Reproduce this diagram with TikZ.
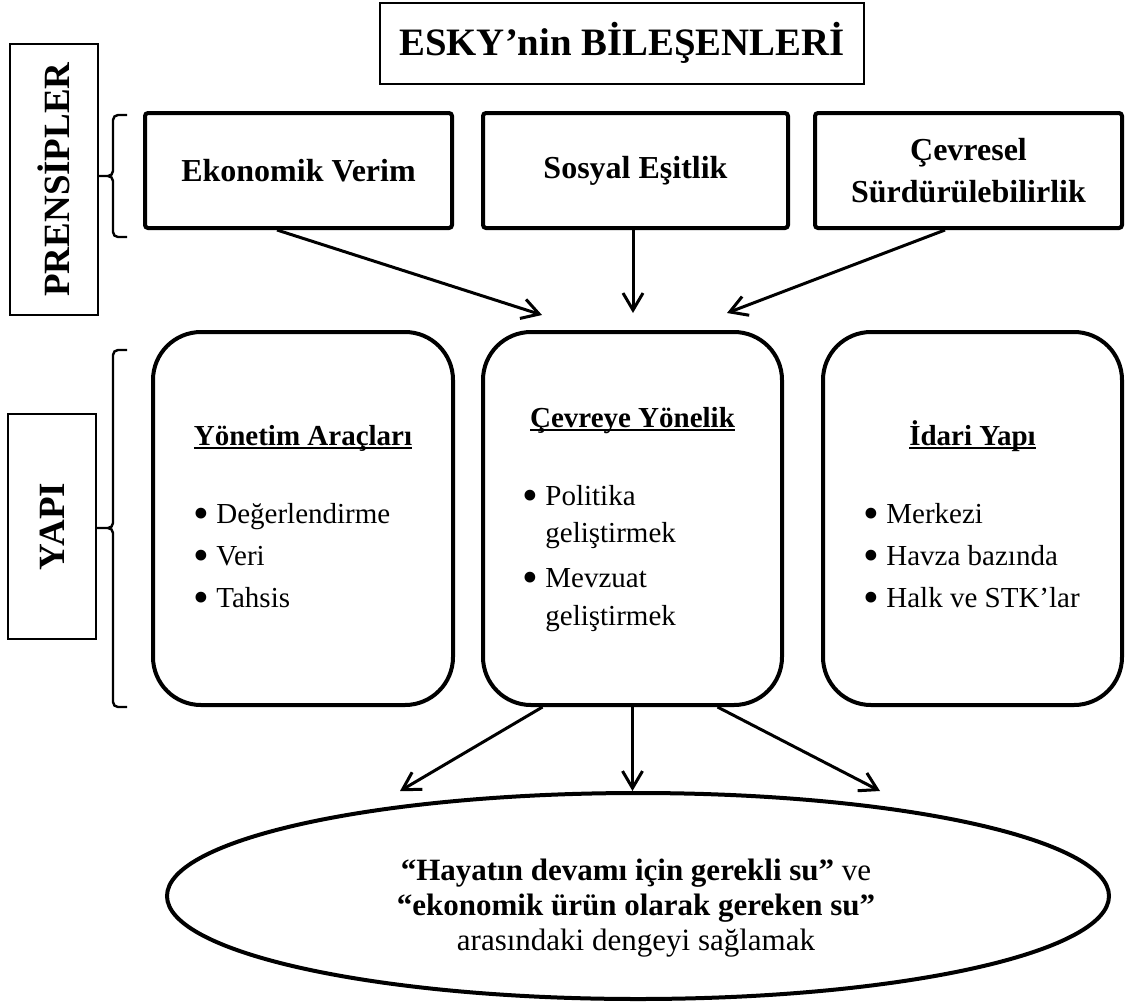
\documentclass[tikz,border=0pt]{standalone}
\usepackage{fontspec}
\setmainfont{Liberation Serif}
\usepackage{graphicx}
\usetikzlibrary{arrows.meta,calc,shapes.geometric}
\newsavebox\myulbox
\newcommand\myul[1]{\sbox\myulbox{#1}\rlap{\rule[-1.9pt]{\wd\myulbox}{1pt}}\usebox\myulbox}
\newcommand\mybul{\makebox[11.5pt][l]{\raisebox{-2.6pt}{\scalebox{1.55}{•}}}}
\begin{document}
\begin{tikzpicture}[x=0.5pt,y=-0.5pt,
  thinbox/.style={draw,line width=0.8pt,inner sep=0pt},
  pbox/.style={draw,line width=2pt,rounded corners=1.5pt,minimum width=153.5pt,minimum height=57.5pt,align=center,inner sep=0pt,font=\fontsize{16pt}{21pt}\selectfont\bfseries},
  strbox/.style={draw,line width=2pt,rounded corners=24pt,minimum width=150pt,minimum height=186.5pt,inner sep=0pt},
  arr/.style={line width=1.5pt,-{Straight Barb[length=8.5pt,width=10pt]}},
  hdr/.style={anchor=base,inner sep=0pt,font=\fontsize{14.5pt}{17pt}\selectfont\bfseries},
  listitem/.style={anchor=base west,inner sep=0pt,font=\fontsize{14.5pt}{17pt}\selectfont},
  brk/.style={line width=1.2pt}]
\useasboundingbox (0,0) rectangle (1125,1002);

% title
\node[thinbox,line width=1pt,minimum width=242pt,minimum height=40.5pt,font=\fontsize{19.4pt}{22pt}\selectfont\bfseries] (title) at (622,43) {ESKY’nin BİLEŞENLERİ};

% side labels
\node[thinbox,minimum width=44pt,minimum height=135.5pt] (pl) at (54,179.5) {\rotatebox{90}{\fontsize{18.5pt}{22pt}\selectfont\bfseries PRENSİPLER}};
\node[thinbox,minimum width=44pt,minimum height=112.5pt] (yp) at (52,526.5) {\rotatebox{90}{\fontsize{18.5pt}{22pt}\selectfont\bfseries YAPI}};

% brackets
\draw[brk] (127,115) -- (118,115) to[out=180,in=90] (113,120) -- (113,171) to[out=-90,in=0] (108,176) -- (98,176);
\draw[brk] (127,237) -- (118,237) to[out=180,in=-90] (113,232) -- (113,181) to[out=90,in=0] (108,176);
\draw[brk] (127,350) -- (118,350) to[out=180,in=90] (113,355) -- (113,523) to[out=-90,in=0] (108,528) -- (96,528);
\draw[brk] (127,707) -- (118,707) to[out=180,in=-90] (113,702) -- (113,533) to[out=90,in=0] (108,528);

% principles
\node[pbox] (ek) at (298.5,170.5) {Ekonomik Verim};
\node[pbox,minimum width=152.5pt] (so) at (635.5,170.5) {Sosyal Eşitlik};
\node[pbox] (cv) at (968.5,170.5) {Çevresel\\Sürdürülebilirlik};

% structure boxes
\node[strbox] (ya) at (303,518.5) {};
\node[strbox,minimum width=149.5pt] (mid) at (632.5,518.5) {};
\node[strbox,minimum width=149.5pt] (ri) at (972.5,518.5) {};

% left content
\node[hdr] (yah) at (303,445) {\myul{Yönetim Araçları}};
\node[listitem] (ya1) at (193,523) {\mybul Değerlendirme};
\node[listitem] (ya2) at (193,565) {\mybul Veri};
\node[listitem] (ya3) at (193,607) {\mybul Tahsis};

% middle content
\node[hdr] (midh) at (632.5,427) {\myul{Çevreye Yönelik}};
\node[listitem] (mid1) at (522,505) {\mybul Politika};
\node[listitem] (mid1b) at (545,542) {geliştirmek};
\node[listitem] (mid2) at (522,587) {\mybul Mevzuat};
\node[listitem] (mid2b) at (545,625) {geliştirmek};

% right content
\node[hdr] (rih) at (972.5,445) {\myul{İdari Yapı}};
\node[listitem] (ri1) at (863,523) {\mybul Merkezi};
\node[listitem] (ri2) at (863,565) {\mybul Havza bazında};
\node[listitem] (ri3) at (863,607) {\mybul Halk ve STK’lar};

% ellipse
\node[draw,ellipse,line width=2pt,inner sep=0pt,minimum width=471pt,minimum height=103pt] (ell) at (638,896) {};
\node[align=center,inner sep=0pt,font=\fontsize{15.5pt}{17.5pt}\selectfont] (elltext) at (636,908)
  {{\bfseries “Hayatın devamı için gerekli su”} ve\\{\bfseries “ekonomik ürün olarak gereken su”}\\arasındaki dengeyi sağlamak};

% arrows
\draw[arr] ($(ek.south)+(-21.5,0)$) -- ($(mid.north)+(-90.5,-15)$);
\draw[arr] ($(so.south)+(-2.5,0)$) -- ($(mid.north)+(0.5,-17)$);
\draw[arr] ($(cv.south)+(-23.5,0)$) -- ($(mid.north)+(94.5,-17)$);
\draw[arr] ($(mid.south)+(-90,0)$) -- ($(ell.north)+(-238,0)$);
\draw[arr] (mid.south) -- ($(ell.north)+(-5.5,0)$);
\draw[arr] ($(mid.south)+(85,0)$) -- ($(ell.north)+(242,0)$);
\end{tikzpicture}
\end{document}
